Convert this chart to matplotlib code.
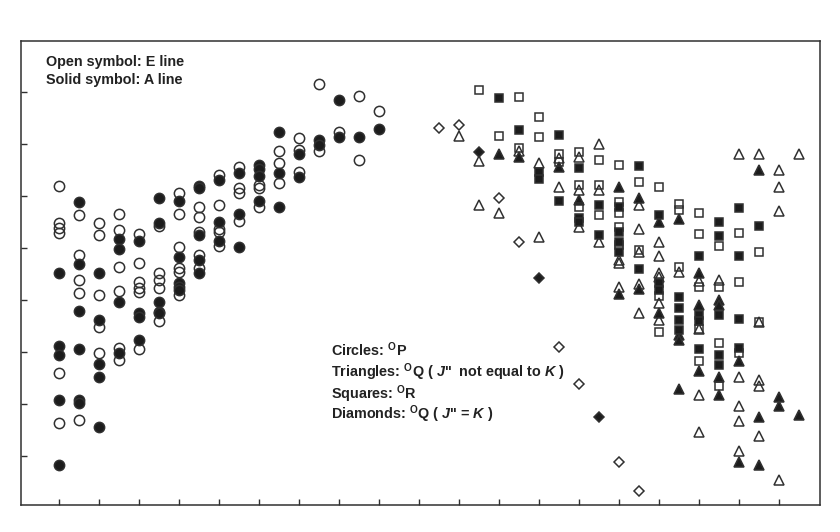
import matplotlib
matplotlib.use("Agg")
import matplotlib.pyplot as plt

# column index (x) and level (y)
circ_open_x = [1]*6 + [2]*5 + [3]*5 + [4]*6 + [5]*6 + [6]*5 + [7]*6 + [8]*5 + [9]*5 + [10]*4 + [11]*3 + [12]*3 + [13]*3 + [14]*2 + [15] + [16]*2 + [17]
circ_open_y = [6.19, 5.48, 5.37, 5.29, 2.58, 1.63,
               5.63, 4.86, 4.38, 4.12, 1.69,
               5.48, 5.24, 4.09, 3.47, 2.97,
               5.65, 5.33, 4.62, 4.17, 3.07, 2.84,
               5.26, 4.71, 4.33, 4.22, 4.15, 3.05,
               5.42, 4.51, 4.38, 4.22, 3.58,
               6.05, 5.65, 5.02, 4.60, 4.54, 4.09,
               5.79, 5.58, 5.30, 4.86, 4.60,
               6.40, 5.82, 5.35, 5.31, 5.03,
               6.55, 6.14, 6.06, 5.52,
               6.21, 6.14, 5.79,
               6.85, 6.63, 6.24,
               7.10, 6.88, 6.46,
               8.15, 6.85,
               7.23,
               7.92, 6.69,
               7.62]

circ_solid_x = [1]*5 + [2]*6 + [3]*5 + [4]*4 + [5]*4 + [6]*5 + [7]*5 + [8]*5 + [9]*3 + [10]*3 + [11]*4 + [12]*3 + [13]*2 + [14]*2 + [15]*2 + [16] + [17]
circ_solid_y = [4.51, 3.10, 2.94, 2.06, 0.82,
                5.88, 4.69, 3.79, 3.05, 2.07, 2.02,
                4.51, 3.60, 2.76, 2.51, 1.55,
                5.16, 4.97, 3.96, 2.97,
                5.12, 3.74, 3.67, 3.23,
                5.95, 5.48, 3.96, 3.77, 3.74,
                5.90, 4.82, 4.32, 4.25, 4.19,
                6.18, 6.14, 5.24, 4.76, 4.51,
                6.30, 5.50, 5.12,
                6.44, 5.65, 5.02,
                6.59, 6.51, 6.38, 5.90,
                7.22, 6.44, 5.78,
                6.80, 6.35,
                7.07, 6.97,
                7.84, 7.12,
                7.12,
                7.28]

tri_open_x = [21, 22, 22, 23, 24, 25, 25, 26, 26, 27, 27, 27, 28, 28, 28,
              29, 29, 29, 30, 30, 30, 30, 30, 31, 31, 31, 31, 31, 31,
              32, 33, 33, 33, 33, 34, 35, 35, 35, 35, 35,
              36, 36, 36, 36, 36, 37, 37, 37, 37, 38]
tri_open_y = [7.15, 6.67, 5.82, 5.66, 6.86, 6.62, 5.21, 6.72, 6.17, 6.75, 6.11, 5.39, 7.00, 6.11, 5.10,
              4.76, 4.70, 4.25, 5.82, 5.35, 4.92, 4.30, 3.74, 5.10, 4.83, 4.51, 4.44, 3.93, 3.61,
              4.54, 4.35, 3.43, 2.17, 1.46, 4.38, 6.81, 2.52, 1.96, 1.67, 1.08,
              6.81, 3.56, 2.46, 2.34, 1.38, 6.50, 6.17, 5.71, 0.53, 6.81]

tri_solid_x = [23, 24, 26, 27, 29, 29, 30, 30, 31, 31, 32, 32, 32, 32,
               33, 33, 33, 34, 34, 34, 34, 35, 35, 36, 36, 36, 37, 37, 38]
tri_solid_y = [6.81, 6.75, 6.55, 5.92, 6.16, 4.11, 5.95, 4.20, 5.50, 3.75, 5.55, 3.32, 3.22, 2.28,
               4.51, 3.90, 2.62, 3.99, 3.90, 2.52, 2.17, 2.81, 0.87, 6.49, 1.75, 0.82, 2.13, 1.96, 1.78]

sq_open_x = [22, 23, 24, 24, 25, 25, 26, 26, 27, 27, 27, 28, 28, 28,
             29, 29, 29, 29, 29, 30, 30, 31, 31, 31, 32, 32, 32,
             33, 33, 33, 33, 33, 34, 34, 34, 34, 35, 35, 35, 36, 36]
sq_open_y = [8.03, 7.15, 7.90, 6.92, 7.51, 7.13, 6.80, 6.65, 6.83, 6.21, 5.79, 6.69, 6.21, 5.63,
             6.59, 5.88, 5.66, 5.40, 5.05, 6.27, 4.96, 6.17, 4.06, 3.38, 5.84, 5.72, 4.63,
             5.66, 5.27, 4.25, 3.43, 2.81, 5.03, 4.25, 3.16, 2.33, 5.29, 4.33, 2.98, 4.92, 3.56]

sq_solid_x = [23, 24, 25, 25, 26, 26, 27, 27, 27, 28, 28,
              29, 29, 29, 29, 30, 30, 31, 31, 31, 32, 32, 32, 32,
              33, 33, 33, 33, 34, 34, 34, 34, 34, 35, 35, 35, 35, 36]
sq_solid_y = [7.88, 7.26, 6.46, 6.32, 7.16, 5.90, 6.54, 5.57, 5.50, 5.82, 5.24,
              5.79, 5.30, 5.10, 4.92, 6.57, 4.58, 5.63, 4.31, 4.19, 4.05, 3.83, 3.61, 3.42,
              4.83, 3.70, 3.58, 3.05, 5.50, 5.22, 3.71, 2.94, 2.74, 5.76, 4.84, 3.62, 3.07, 5.42]

dia_open_x = [20, 21, 23, 24, 26, 27, 29, 30]
dia_open_y = [7.31, 7.35, 5.96, 5.10, 3.08, 2.37, 0.87, 0.31]
dia_solid_x = [22, 25, 28]
dia_solid_y = [6.83, 4.41, 1.74]

ytick_vals = [1, 2, 3, 4, 5, 6, 7, 8]
xtick_vals = list(range(1, 39, 2))

plt.rcParams['font.family'] = ['Liberation Sans', 'DejaVu Sans']
plt.rcParams['mathtext.fontset'] = 'custom'
plt.rcParams['mathtext.rm'] = 'Liberation Sans:bold'
plt.rcParams['mathtext.it'] = 'Liberation Sans:bold:italic'
plt.rcParams['mathtext.bf'] = 'Liberation Sans:bold'

fig = plt.figure(figsize=(8.4, 5.32), dpi=100)
ax = fig.add_axes([0.0246, 0.0508, 0.951, 0.8727])

ink = '#1c1c1c'
edge = '#303030'
common = dict(linestyle='none', markeredgewidth=1.1, markeredgecolor=edge)

ax.plot(circ_open_x, circ_open_y, marker='o', markersize=7.4, markerfacecolor='none', **common)
ax.plot(circ_solid_x, circ_solid_y, marker='o', markersize=7.4, markerfacecolor=ink, **common)
ax.plot(tri_open_x, tri_open_y, marker='^', markersize=7.4, markerfacecolor='none', **common)
ax.plot(tri_solid_x, tri_solid_y, marker='^', markersize=7.4, markerfacecolor=ink, **common)
ax.plot(sq_open_x, sq_open_y, marker='s', markersize=6.4, markerfacecolor='none', **common)
ax.plot(sq_solid_x, sq_solid_y, marker='s', markersize=6.4, markerfacecolor=ink, **common)
ax.plot(dia_open_x, dia_open_y, marker='D', markersize=5.2, markerfacecolor='none', **common)
ax.plot(dia_solid_x, dia_solid_y, marker='D', markersize=5.2, markerfacecolor=ink, **common)

ax.set_xlim(-0.93, 39.01)
ax.set_ylim(0.05, 8.98)
ax.set_xticks(xtick_vals)
ax.set_yticks(ytick_vals)
ax.tick_params(direction='in', length=4, width=1.0, color=edge,
               labelbottom=False, labelleft=False)
for sp in ax.spines.values():
    sp.set_linewidth(1.1)
    sp.set_color(edge)

txt = dict(transform=ax.transAxes, fontsize=10.4, fontweight='bold', color='#222222', va='baseline')
ax.text(0.0317, 0.9457, 'Open symbol: E line', **txt)
ax.text(0.0317, 0.9078, 'Solid symbol: A line', **txt)
ax.text(0.389, 0.3211, r'Circles: $^{\mathrm{O}}\mathrm{P}$', **txt)
ax.text(0.389, 0.2746, r'Triangles: $^{\mathrm{O}}\mathrm{Q}$ ( $J$"  not equal to $K$ )', **txt)
ax.text(0.389, 0.2279, r'Squares: $^{\mathrm{O}}\mathrm{R}$', **txt)
ax.text(0.389, 0.1848, r'Diamonds: $^{\mathrm{O}}\mathrm{Q}$ ( $J$" = $K$ )', **txt)

fig.savefig('out.png', dpi=100)
plt.close(fig)
